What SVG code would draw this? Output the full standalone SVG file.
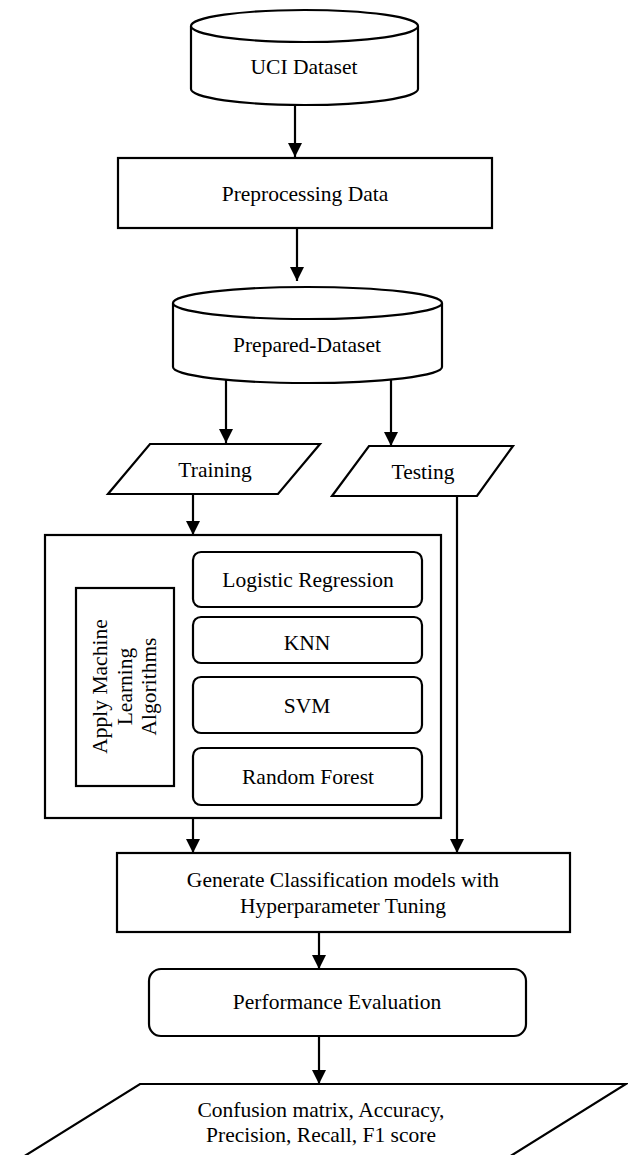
<svg xmlns="http://www.w3.org/2000/svg" width="628" height="1155" viewBox="0 0 628 1155">
  <style>
    .shape { fill: #ffffff; stroke: #000000; stroke-width: 2.2; }
    .edge { fill: none; stroke: #000000; stroke-width: 2.2; marker-end: url(#arrow); }
    .label { font-family: "Liberation Serif", "Times New Roman", serif; font-size: 21.5px; fill: #000000; text-anchor: middle; }
  </style>
  <defs>
    <marker id="arrow" markerUnits="userSpaceOnUse" markerWidth="14" markerHeight="14" refX="14" refY="7" orient="auto">
      <path d="M0,0 L14,7 L0,14 Z" fill="#000000"/>
    </marker>
  </defs>
  <rect width="628" height="1155" fill="#ffffff"/>

  <!-- UCI Dataset (cylinder) -->
  <g id="uci-dataset">
    <path class="shape" d="M191,26 A113.5,16 0 0,1 418,26 L418,89 A113.5,16 0 0,1 191,89 Z"/>
    <path class="shape" fill="none" d="M191,26 A113.5,16 0 0,0 418,26"/>
    <text class="label" x="304" y="74">UCI Dataset</text>
  </g>

  <!-- Preprocessing -->
  <g id="preprocessing">
    <rect class="shape" x="118" y="158" width="374" height="70"/>
    <text class="label" x="305" y="201">Preprocessing Data</text>
  </g>

  <!-- Prepared-Dataset (cylinder) -->
  <g id="prepared-dataset">
    <path class="shape" d="M173,303 A134.5,16 0 0,1 442,303 L442,367 A134.5,16 0 0,1 173,367 Z"/>
    <path class="shape" fill="none" d="M173,303 A134.5,16 0 0,0 442,303"/>
    <text class="label" x="307" y="352">Prepared-Dataset</text>
  </g>

  <!-- Training (parallelogram) -->
  <g id="training">
    <polygon class="shape" points="150,444 320,444 278,494 108,494"/>
    <text class="label" x="215" y="477">Training</text>
  </g>

  <!-- Testing (parallelogram) -->
  <g id="testing">
    <polygon class="shape" points="369,446 513,446 477,496 332,496"/>
    <text class="label" x="423" y="479">Testing</text>
  </g>

  <!-- Machine learning algorithms container -->
  <g id="ml-algorithms">
    <rect class="shape" x="45" y="535" width="396" height="283"/>
    <g id="ml-title">
      <rect class="shape" x="76" y="588" width="98" height="198"/>
      <text class="label" transform="translate(107,686.5) rotate(-90)" x="0" y="0">Apply Machine</text>
      <text class="label" transform="translate(132,686.5) rotate(-90)" x="0" y="0">Learning</text>
      <text class="label" transform="translate(156,686.5) rotate(-90)" x="0" y="0">Algorithms</text>
    </g>
    <g id="logistic-regression">
      <rect class="shape" x="193" y="552" width="229" height="55" rx="8"/>
      <text class="label" x="308" y="587">Logistic Regression</text>
    </g>
    <g id="knn">
      <rect class="shape" x="193" y="617" width="229" height="46" rx="8"/>
      <text class="label" x="307" y="650">KNN</text>
    </g>
    <g id="svm">
      <rect class="shape" x="193" y="677" width="229" height="56" rx="8"/>
      <text class="label" x="307" y="713">SVM</text>
    </g>
    <g id="random-forest">
      <rect class="shape" x="193" y="748" width="229" height="57" rx="8"/>
      <text class="label" x="308" y="784">Random Forest</text>
    </g>
  </g>

  <!-- Model generation -->
  <g id="generate-models">
    <rect class="shape" x="117" y="853" width="453" height="79"/>
    <text class="label" x="343" y="887">Generate Classification models with</text>
    <text class="label" x="343" y="913">Hyperparameter Tuning</text>
  </g>

  <!-- Evaluation -->
  <g id="performance-evaluation">
    <rect class="shape" x="149" y="969" width="377" height="67" rx="12"/>
    <text class="label" x="337" y="1009">Performance Evaluation</text>
  </g>

  <!-- Metrics (parallelogram, running off the bottom edge) -->
  <g id="metrics">
    <polygon class="shape" points="140,1084 626,1084 440,1200 -46,1200"/>
    <text class="label" x="321" y="1117">Confusion matrix, Accuracy,</text>
    <text class="label" x="321" y="1142">Precision, Recall, F1 score</text>
  </g>

  <!-- Connectors -->
  <g id="connectors">
    <line class="edge" x1="295" y1="105" x2="295" y2="157"/>
    <line class="edge" x1="297" y1="228" x2="297" y2="281"/>
    <line class="edge" x1="226" y1="380" x2="226" y2="443"/>
    <line class="edge" x1="391" y1="380" x2="391" y2="446"/>
    <line class="edge" x1="193" y1="494" x2="193" y2="535"/>
    <line class="edge" x1="193" y1="818" x2="193" y2="853"/>
    <line class="edge" x1="457" y1="496" x2="457" y2="853"/>
    <line class="edge" x1="319" y1="932" x2="319" y2="969"/>
    <line class="edge" x1="319" y1="1036" x2="319" y2="1084"/>
  </g>
</svg>
